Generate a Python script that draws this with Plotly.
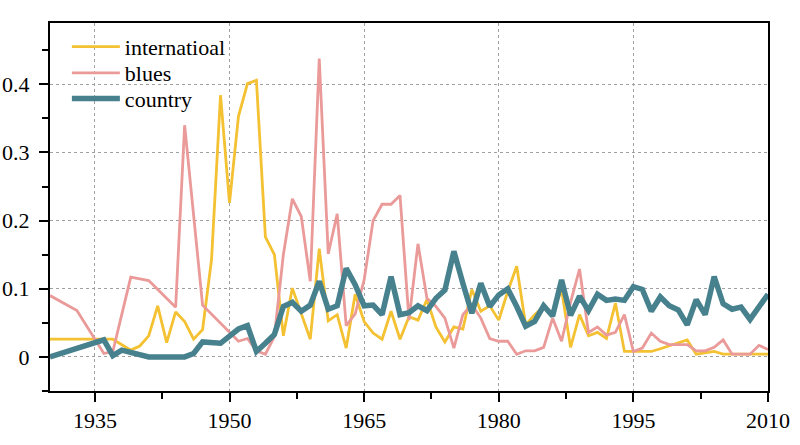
import plotly.graph_objects as go

# international (yellow)
intl_years = [1930, 1937, 1939, 1940, 1941, 1942, 1943, 1944, 1945, 1946, 1947, 1948, 1949,
              1950, 1951, 1952, 1953, 1954, 1955, 1956, 1957, 1958, 1959, 1960, 1961, 1962,
              1963, 1964, 1965, 1966, 1967, 1968, 1969, 1970, 1971, 1972, 1973, 1974, 1975,
              1976, 1977, 1978, 1979, 1980, 1981, 1982, 1983, 1984, 1985, 1986, 1987, 1988,
              1989, 1990, 1991, 1992, 1993, 1994, 1997, 1998, 1999, 2000, 2001, 2002, 2003,
              2004, 2005, 2010]
intl_vals = [0.026, 0.026, 0.010, 0.016, 0.031, 0.075, 0.021, 0.066, 0.052, 0.026, 0.040, 0.143, 0.384,
             0.226, 0.353, 0.401, 0.406, 0.176, 0.150, 0.031, 0.101, 0.064, 0.026, 0.159, 0.053, 0.062,
             0.013, 0.092, 0.052, 0.035, 0.026, 0.067, 0.026, 0.059, 0.054, 0.084, 0.044, 0.022, 0.044,
             0.041, 0.099, 0.067, 0.075, 0.054, 0.096, 0.133, 0.047, 0.062, 0.074, 0.064, 0.099, 0.014,
             0.062, 0.031, 0.036, 0.027, 0.079, 0.008, 0.008, 0.012, 0.016, 0.020, 0.025, 0.004, 0.006,
             0.008, 0.004, 0.004]

# blues (pink)
blues_years = [1930, 1933, 1936, 1937, 1939, 1941, 1944, 1945, 1947, 1951, 1952, 1953, 1954,
               1955, 1956, 1957, 1958, 1959, 1960, 1961, 1962, 1963, 1964, 1965, 1966, 1967,
               1968, 1969, 1970, 1971, 1972, 1973, 1974, 1975, 1976, 1977, 1978, 1979, 1980,
               1981, 1982, 1983, 1984, 1985, 1986, 1987, 1988, 1989, 1990, 1991, 1992, 1993,
               1994, 1995, 1996, 1997, 1998, 1999, 2000, 2001, 2002, 2003, 2004, 2005, 2006,
               2007, 2008, 2009, 2010]
blues_vals = [0.090, 0.068, 0.005, 0.008, 0.117, 0.112, 0.073, 0.340, 0.076, 0.023, 0.027, 0.009, 0.004,
              0.030, 0.150, 0.232, 0.206, 0.111, 0.438, 0.151, 0.210, 0.046, 0.063, 0.113, 0.200, 0.224,
              0.224, 0.237, 0.054, 0.166, 0.086, 0.074, 0.057, 0.013, 0.062, 0.077, 0.057, 0.027, 0.023,
              0.023, 0.004, 0.009, 0.009, 0.014, 0.057, 0.023, 0.080, 0.129, 0.036, 0.044, 0.032, 0.036,
              0.062, 0.008, 0.013, 0.035, 0.023, 0.018, 0.018, 0.018, 0.009, 0.009, 0.014, 0.025, 0.004,
              0.004, 0.004, 0.017, 0.011]

# country (teal)
country_years = [1930, 1936, 1937, 1938, 1941, 1945, 1946, 1947, 1949, 1950, 1951, 1952, 1953,
                 1954, 1955, 1956, 1957, 1958, 1959, 1960, 1961, 1962, 1963, 1964, 1965, 1966,
                 1967, 1968, 1969, 1970, 1971, 1972, 1973, 1974, 1975, 1976, 1977, 1978, 1979,
                 1980, 1981, 1982, 1983, 1984, 1985, 1986, 1987, 1988, 1989, 1990, 1991, 1992,
                 1993, 1994, 1995, 1996, 1997, 1998, 1999, 2000, 2001, 2002, 2003, 2004, 2005,
                 2006, 2007, 2008, 2009, 2010]
country_vals = [0.000, 0.025, 0.002, 0.010, 0.000, 0.000, 0.005, 0.022, 0.020, 0.030, 0.041, 0.046, 0.008,
                0.020, 0.033, 0.074, 0.080, 0.067, 0.076, 0.111, 0.070, 0.075, 0.130, 0.106, 0.075, 0.076,
                0.062, 0.118, 0.062, 0.065, 0.075, 0.068, 0.086, 0.098, 0.155, 0.108, 0.064, 0.108, 0.074,
                0.091, 0.100, 0.074, 0.045, 0.052, 0.075, 0.060, 0.113, 0.061, 0.089, 0.068, 0.092, 0.083,
                0.085, 0.083, 0.103, 0.099, 0.067, 0.088, 0.075, 0.069, 0.047, 0.084, 0.062, 0.118, 0.078,
                0.070, 0.073, 0.055, 0.073, 0.092]

SERIF = 'Liberation Serif'

fig = go.Figure()
fig.add_trace(go.Scatter(x=intl_years, y=intl_vals, mode='lines', name='internatioal',
                         line=dict(color='#F4C132', width=2.8), legend='legend'))
fig.add_trace(go.Scatter(x=blues_years, y=blues_vals, mode='lines', name='blues',
                         line=dict(color='#EA9A99', width=2.8), legend='legend2'))
fig.add_trace(go.Scatter(x=country_years, y=country_vals, mode='lines', name='country',
                         line=dict(color='#47818E', width=5.5), legend='legend3'))

# one legend per entry so the row spacing matches the original
leg = dict(x=0.0235, xanchor='left', yanchor='middle', bgcolor='rgba(0,0,0,0)',
           font=dict(family=SERIF, size=22, color='black'), itemwidth=48)

fig.update_layout(
    width=800, height=445,
    margin=dict(l=50, r=32, t=23, b=54),
    plot_bgcolor='white', paper_bgcolor='white',
    font=dict(family=SERIF, size=22, color='black'),
    showlegend=True,
    legend=dict(leg, y=0.935),
    legend2=dict(leg, y=0.864),
    legend3=dict(leg, y=0.794),
)

axis_common = dict(
    showline=True, linecolor='black', linewidth=2, mirror=True,
    ticks='outside', ticklen=9, tickwidth=1.5, tickcolor='black',
    showgrid=True, gridcolor='#a0a0a0', griddash='dot', gridwidth=1,
    zeroline=False, automargin=False,
    tickfont=dict(family=SERIF, size=22, color='black'),
)
fig.update_xaxes(
    range=[1930, 2010], tick0=1935, dtick=15,
    minor=dict(dtick=7.5, tick0=1935, ticks='outside', ticklen=6, tickcolor='black', showgrid=False),
    **axis_common,
)
fig.update_yaxes(
    range=[-0.05, 0.49], tick0=0, dtick=0.1, ticklabelstandoff=5,
    minor=dict(dtick=0.05, tick0=0, ticks='outside', ticklen=6, tickcolor='black', showgrid=False),
    **axis_common,
)

# drop the default 8px body margin so the figure sits at the page corner
fig.write_html("out.html", config={'displayModeBar': False},
               post_script="document.body.style.margin = '0';")
